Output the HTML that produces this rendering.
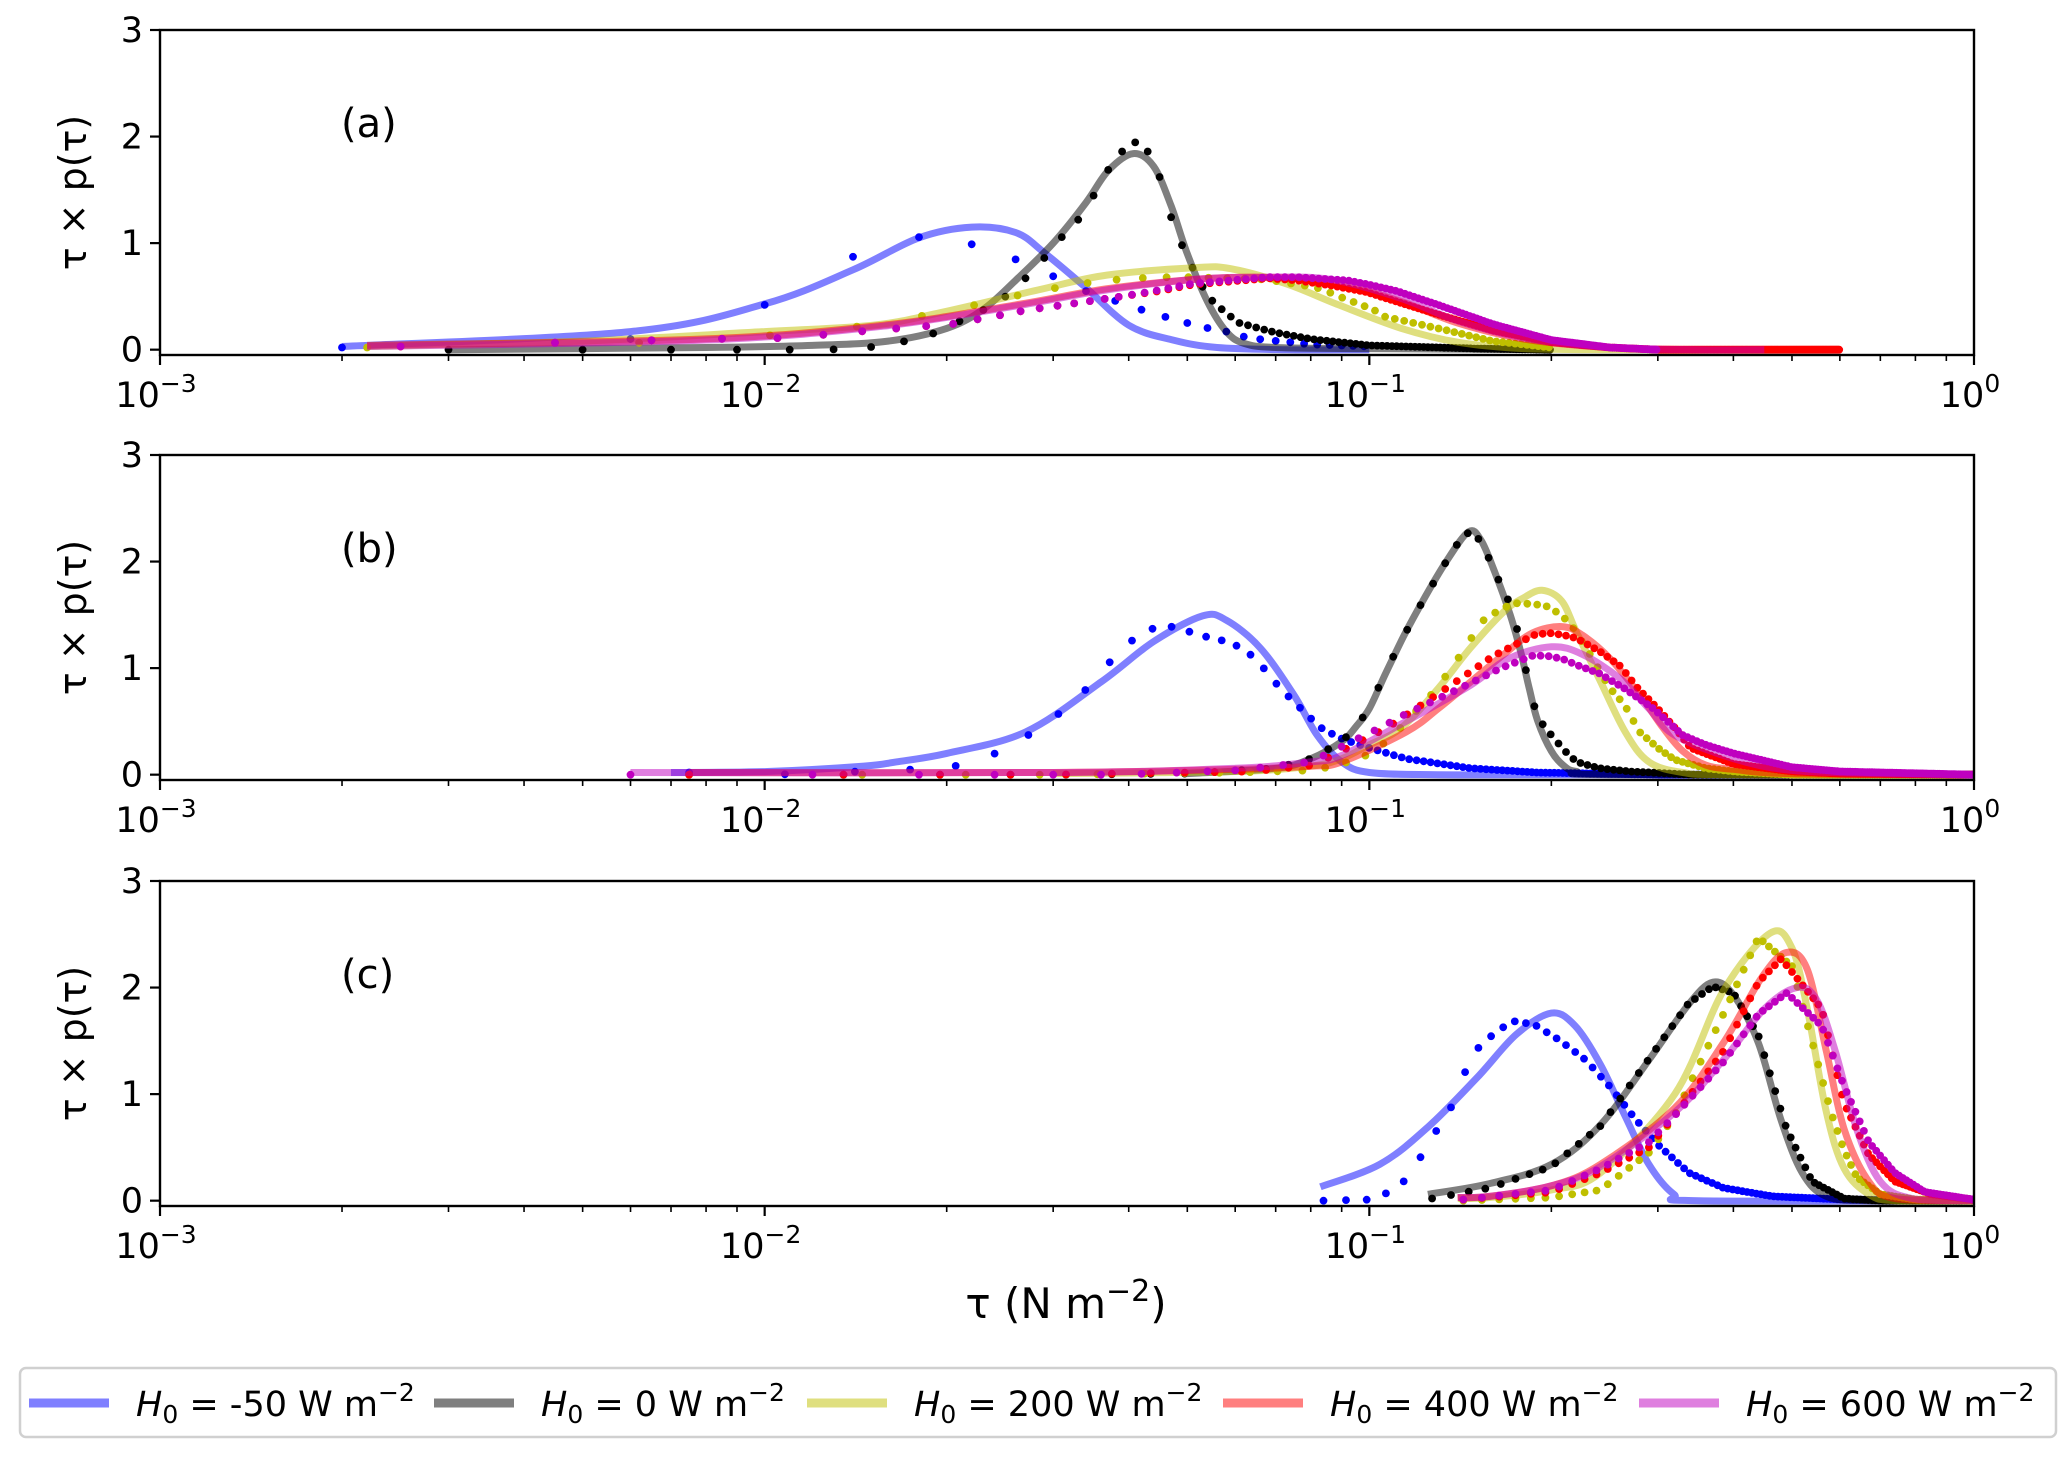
<!DOCTYPE html>
<html><head><meta charset="utf-8"><style>
html,body{margin:0;padding:0;background:#fff;}
svg{display:block;font-family:"DejaVu Sans","Liberation Sans",sans-serif;}
</style></head><body>
<svg id="chart" width="2067" height="1458" viewBox="0 0 2067 1458" xmlns="http://www.w3.org/2000/svg"></svg>
<script>
// ---------- data ----------
const panelLabels = ["(a)", "(b)", "(c)"];
const yTicks = [0, 1, 2, 3];
const xDecades = [-3, -2, -1, 0];
const seriesNames = ["-50", "0", "200", "400", "600"];

// Panel (a) lines
const aBlueLineT = [0.002,0.006,0.010,0.014,0.018,0.022,0.026,0.029,0.0337,0.040,0.0474,0.056,0.073,0.1];
const aBlueLineV = [0.03,0.17,0.43,0.75,1.05,1.15,1.10,0.91,0.60,0.23,0.09,0.02,0.0,0.0];
const aBlackLineT = [0.003,0.008,0.012,0.016,0.020,0.023,0.026,0.030,0.034,0.037,0.0407,0.044,0.047,0.050,0.054,0.058,0.062,0.070,0.10,0.20];
const aBlackLineV = [0.0,0.02,0.04,0.08,0.20,0.38,0.65,1.0,1.38,1.68,1.84,1.72,1.35,0.90,0.45,0.17,0.06,0.02,0.01,0.0];
const aYellowLineT = [0.0022,0.005,0.010,0.0151,0.0196,0.0283,0.0368,0.0517,0.059,0.0727,0.089,0.113,0.14,0.18,0.25,0.3];
const aYellowLineV = [0.03,0.08,0.17,0.23,0.35,0.56,0.70,0.77,0.76,0.62,0.42,0.20,0.07,0.01,0.0,0.0];
const aRedLineT = [0.0022,0.0079,0.0157,0.026,0.0367,0.0517,0.0667,0.086,0.113,0.14,0.18,0.25,0.35,0.45,0.6];
const aRedLineV = [0.04,0.10,0.23,0.42,0.57,0.66,0.68,0.64,0.45,0.25,0.10,0.02,0.0,0.0,0.0];
const aMagLineT = [0.0022,0.0079,0.0157,0.026,0.0367,0.0517,0.0667,0.086,0.113,0.14,0.18,0.25,0.35,0.45];
const aMagLineV = [0.03,0.09,0.22,0.41,0.56,0.66,0.68,0.66,0.48,0.27,0.11,0.02,0.0,0.0];
// Panel (a) dots
const aBlueDotT = [0.002,0.006,0.010,0.0138,0.0178,0.0217,0.0257,0.0297,0.0336,0.0412,0.0452,0.0493,0.0532,0.0572,0.061,0.0652,0.08,0.1];
const aBlueDotV = [0.02,0.10,0.42,0.86,1.06,1.0,0.86,0.70,0.56,0.39,0.32,0.26,0.21,0.18,0.13,0.10,0.05,0.03];
const aBlackDotT = [0.003,0.0088,0.0128,0.0148,0.0168,0.0188,0.0228,0.0248,0.0269,0.0289,0.0308,0.033,0.0348,0.0367,0.039,0.0409,0.043,0.045,0.0468,0.049,0.051,0.053,0.055,0.057,0.059,0.061,0.07,0.08,0.1,0.15,0.2];
const aBlackDotV = [0.0,0.0,0.0,0.02,0.07,0.14,0.36,0.48,0.66,0.85,1.04,1.22,1.42,1.66,1.86,1.95,1.86,1.62,1.27,0.98,0.77,0.59,0.46,0.38,0.31,0.25,0.16,0.10,0.04,0.01,0.0];
const aYellowDotT = [0.0022,0.006,0.010,0.015,0.0196,0.0283,0.0325,0.037,0.041,0.0454,0.05,0.067,0.071,0.076,0.081,0.085,0.089,0.097,0.102,0.106,0.13,0.16,0.2];
const aYellowDotV = [0.02,0.06,0.13,0.23,0.35,0.55,0.61,0.65,0.67,0.68,0.68,0.66,0.64,0.61,0.59,0.55,0.50,0.42,0.37,0.31,0.20,0.08,0.02];
const aRedDotT = [0.0025,0.008,0.0109,0.015,0.0204,0.0271,0.033,0.039,0.045,0.051,0.059,0.068,0.076,0.087,0.099,0.111,0.13,0.16,0.2,0.25,0.3,0.45,0.6];
const aRedDotV = [0.03,0.10,0.11,0.18,0.24,0.37,0.44,0.50,0.55,0.61,0.64,0.67,0.65,0.60,0.54,0.45,0.33,0.18,0.07,0.02,0.0,0.0,0.0];
const aMagDotT = [0.0025,0.008,0.0109,0.015,0.0204,0.0271,0.033,0.039,0.045,0.051,0.059,0.068,0.076,0.092,0.1,0.111,0.13,0.16,0.2,0.25,0.3];
const aMagDotV = [0.03,0.10,0.11,0.18,0.24,0.37,0.44,0.50,0.56,0.62,0.65,0.68,0.68,0.65,0.61,0.55,0.42,0.24,0.09,0.02,0.0];

// Panel (b) lines
const bBlueLineT = [0.007,0.0101,0.0146,0.0165,0.02,0.027,0.036,0.044,0.053,0.058,0.066,0.075,0.082,0.09,0.1,0.13,0.2,1.0];
const bBlueLineV = [0.02,0.03,0.08,0.12,0.20,0.40,0.87,1.25,1.49,1.45,1.19,0.75,0.37,0.12,0.02,0.0,0.0,0.0];
const bBlackLineT = [0.05,0.07,0.08,0.09,0.095,0.10,0.106,0.114,0.122,0.134,0.146,0.153,0.161,0.171,0.178,0.184,0.19,0.20,0.21,0.22,0.25,1.0];
const bBlackLineV = [0.01,0.06,0.15,0.31,0.45,0.62,0.93,1.30,1.61,2.0,2.28,2.20,1.91,1.50,1.15,0.80,0.50,0.22,0.08,0.03,0.0,0.0];
const bYellowLineT = [0.03,0.06,0.08,0.09,0.10,0.113,0.13,0.147,0.167,0.18,0.193,0.208,0.22,0.24,0.265,0.29,0.33,0.4,1.0];
const bYellowLineV = [0.01,0.03,0.08,0.15,0.28,0.44,0.81,1.19,1.53,1.66,1.73,1.63,1.34,0.90,0.40,0.12,0.02,0.0,0.0];
const bRedLineT = [0.0075,0.03,0.06,0.08,0.09,0.115,0.13,0.147,0.167,0.186,0.208,0.225,0.25,0.28,0.306,0.33,0.36,0.4,0.5,1.0];
const bRedLineV = [0.02,0.02,0.05,0.08,0.12,0.40,0.62,0.87,1.13,1.33,1.39,1.31,1.09,0.75,0.44,0.22,0.09,0.05,0.01,0.0];
const bMagLineT = [0.006,0.03,0.06,0.08,0.09,0.115,0.147,0.17,0.20,0.225,0.26,0.29,0.32,0.4,0.5,0.7,1.0];
const bMagLineV = [0.02,0.02,0.06,0.12,0.18,0.50,0.84,1.09,1.20,1.13,0.90,0.62,0.37,0.15,0.04,0.01,0.0];
// Panel (b) dots
const bBlueDotT = [0.0075,0.0104,0.02,0.0233,0.0266,0.0297,0.033,0.036,0.039,0.0426,0.0458,0.049,0.052,0.0554,0.0587,0.062,0.065,0.068,0.071,0.0745,0.078,0.081,0.084,0.0877,0.0906,0.1,0.115,0.147,0.19,0.3,1.0];
const bBlueDotV = [0.02,0.0,0.06,0.16,0.33,0.51,0.72,0.96,1.19,1.35,1.40,1.37,1.31,1.28,1.24,1.18,1.08,0.95,0.82,0.70,0.59,0.50,0.42,0.37,0.33,0.25,0.15,0.06,0.02,0.0,0.0];
const bBlackDotT = [0.0075,0.03,0.05,0.07,0.08,0.09,0.095,0.10,0.106,0.114,0.122,0.134,0.144,0.153,0.161,0.171,0.178,0.184,0.19,0.20,0.21,0.22,0.24,0.27,0.34,1.0];
const bBlackDotV = [0.0,0.0,0.01,0.06,0.15,0.31,0.45,0.62,0.95,1.30,1.61,2.0,2.28,2.20,1.91,1.60,1.24,0.80,0.53,0.37,0.23,0.12,0.06,0.03,0.0,0.0];
const bYellowDotT = [0.0075,0.03,0.06,0.08,0.089,0.0986,0.108,0.128,0.138,0.147,0.155,0.167,0.176,0.186,0.195,0.205,0.215,0.23,0.25,0.264,0.28,0.30,0.32,0.36,0.4,0.5,1.0];
const bYellowDotV = [0.0,0.0,0.02,0.04,0.09,0.18,0.33,0.78,1.03,1.27,1.46,1.57,1.61,1.60,1.59,1.52,1.42,1.16,0.81,0.66,0.40,0.25,0.14,0.06,0.03,0.0,0.0];
const bRedDotT = [0.0075,0.03,0.064,0.081,0.107,0.134,0.16,0.187,0.198,0.21,0.22,0.24,0.26,0.278,0.30,0.32,0.34,0.4,0.5,0.6,1.0];
const bRedDotV = [0.0,0.0,0.03,0.09,0.44,0.81,1.11,1.31,1.33,1.31,1.28,1.16,1.02,0.81,0.62,0.44,0.25,0.10,0.03,0.01,0.0];
const bMagDotT = [0.006,0.0104,0.0386,0.06,0.08,0.105,0.114,0.14,0.165,0.187,0.20,0.21,0.22,0.24,0.264,0.295,0.33,0.36,0.4,0.5,0.6,1.0];
const bMagDotV = [0.0,0.0,0.0,0.04,0.12,0.45,0.56,0.80,1.0,1.12,1.11,1.08,1.03,0.95,0.81,0.62,0.37,0.28,0.20,0.07,0.03,0.0];

// Panel (c) lines
const cBlueLineT = [0.083,0.104,0.125,0.151,0.175,0.20,0.219,0.241,0.265,0.29,0.319,0.35,1.0];
const cBlueLineV = [0.13,0.34,0.69,1.16,1.56,1.76,1.64,1.28,0.79,0.34,0.06,0.0,0.0];
const cBlackLineT = [0.125,0.158,0.20,0.241,0.29,0.337,0.37,0.40,0.44,0.48,0.52,0.57,0.67,1.0];
const cBlackLineV = [0.06,0.16,0.34,0.71,1.32,1.84,2.05,1.93,1.48,0.75,0.26,0.04,0.0,0.0];
const cYellowLineT = [0.14,0.158,0.20,0.241,0.32,0.385,0.46,0.50,0.53,0.57,0.61,0.67,0.74,1.0];
const cYellowLineV = [0.02,0.03,0.10,0.26,1.0,1.97,2.51,2.37,1.80,0.83,0.30,0.06,0.0,0.0];
const cRedLineT = [0.14,0.158,0.20,0.241,0.32,0.385,0.445,0.49,0.53,0.57,0.61,0.67,0.74,1.0];
const cRedLineV = [0.03,0.04,0.14,0.34,0.87,1.48,2.09,2.33,2.17,1.40,0.67,0.18,0.02,0.0];
const cMagLineT = [0.14,0.158,0.20,0.241,0.32,0.385,0.45,0.51,0.55,0.59,0.64,0.70,0.79,1.0];
const cMagLineV = [0.03,0.04,0.14,0.32,0.83,1.32,1.80,2.0,1.88,1.40,0.67,0.18,0.02,0.0];
// Panel (c) dots
const cBlueDotT = [0.084,0.10,0.106,0.116,0.125,0.137,0.148,0.163,0.175,0.189,0.207,0.228,0.25,0.275,0.302,0.338,0.385,0.465,0.61,1.0];
const cBlueDotV = [0.0,0.01,0.06,0.21,0.53,0.89,1.38,1.60,1.69,1.64,1.50,1.32,1.07,0.77,0.51,0.26,0.12,0.04,0.01,0.0];
const cBlackDotT = [0.127,0.158,0.20,0.241,0.29,0.337,0.37,0.40,0.44,0.49,0.54,0.61,0.7,1.0];
const cBlackDotV = [0.02,0.12,0.32,0.70,1.33,1.85,2.01,1.95,1.55,0.67,0.18,0.02,0.0,0.0];
const cYellowDotT = [0.143,0.20,0.241,0.29,0.32,0.385,0.44,0.50,0.55,0.58,0.61,0.64,0.70,0.8,1.0];
const cYellowDotV = [0.0,0.03,0.10,0.45,0.80,1.75,2.47,2.20,1.32,0.83,0.47,0.22,0.06,0.01,0.0];
const cRedDotT = [0.143,0.20,0.241,0.29,0.32,0.385,0.44,0.48,0.56,0.61,0.67,0.74,0.85,1.0];
const cRedDotV = [0.01,0.08,0.26,0.50,0.80,1.40,2.05,2.27,1.80,0.91,0.43,0.18,0.06,0.01];
const cMagDotT = [0.143,0.20,0.241,0.29,0.32,0.385,0.44,0.49,0.56,0.61,0.67,0.74,0.83,1.0];
const cMagDotV = [0.01,0.10,0.30,0.55,0.80,1.30,1.75,1.95,1.64,1.07,0.55,0.26,0.08,0.01];

// ---------- layout ----------
const SVGNS = "http://www.w3.org/2000/svg";
const svg = document.getElementById("chart");
const X0 = 160, X1 = 1974;
const panelTops = [30, 455, 881];
const panelH = 325;
const Y_MIN = -0.05, Y_MAX = 3;
const colors = ["#0000ff", "#000000", "#bfbf00", "#ff0000", "#bf00bf"];
const colorKeys = ["blue", "black", "yellow", "red", "magenta"];

function xScale(t) { return X0 + (Math.log10(t) + 3) / 3 * (X1 - X0); }
function yScale(p, v) { const top = panelTops[p]; return top + (Y_MAX - v) / (Y_MAX - Y_MIN) * panelH; }

function mk(tag, attrs, parent) {
  const el = document.createElementNS(SVGNS, tag);
  for (const k in attrs) el.setAttribute(k, attrs[k]);
  (parent || svg).appendChild(el);
  return el;
}

function smoothPath(pts) {
  let d = "M" + pts[0][0].toFixed(1) + "," + pts[0][1].toFixed(1);
  for (let i = 0; i < pts.length - 1; i++) {
    const p0 = pts[Math.max(0, i - 1)], p1 = pts[i], p2 = pts[i + 1], p3 = pts[Math.min(pts.length - 1, i + 2)];
    const c1x = p1[0] + (p2[0] - p0[0]) / 6, c1y = p1[1] + (p2[1] - p0[1]) / 6;
    const c2x = p2[0] - (p3[0] - p1[0]) / 6, c2y = p2[1] - (p3[1] - p1[1]) / 6;
    d += " C" + c1x.toFixed(1) + "," + c1y.toFixed(1) + " " + c2x.toFixed(1) + "," + c2y.toFixed(1) + " " + p2[0].toFixed(1) + "," + p2[1].toFixed(1);
  }
  return d;
}

function interpLog(T, V, t) {
  const lt = Math.log10(t);
  for (let i = 0; i < T.length - 1; i++) {
    const a = Math.log10(T[i]), b = Math.log10(T[i + 1]);
    if (lt >= a && lt <= b) { const f = (lt - a) / (b - a); return V[i] + f * (V[i + 1] - V[i]); }
  }
  return V[V.length - 1];
}

const panels = [
  { lines: [[aBlueLineT,aBlueLineV],[aBlackLineT,aBlackLineV],[aYellowLineT,aYellowLineV],[aRedLineT,aRedLineV],[aMagLineT,aMagLineV]],
    dots: [[aBlueDotT,aBlueDotV],[aBlackDotT,aBlackDotV],[aYellowDotT,aYellowDotV],[aRedDotT,aRedDotV],[aMagDotT,aMagDotV]],
    steps: [0.004,0.002,0.004,0.002,0.002] },
  { lines: [[bBlueLineT,bBlueLineV],[bBlackLineT,bBlackLineV],[bYellowLineT,bYellowLineV],[bRedLineT,bRedLineV],[bMagLineT,bMagLineV]],
    dots: [[bBlueDotT,bBlueDotV],[bBlackDotT,bBlackDotV],[bYellowDotT,bYellowDotV],[bRedDotT,bRedDotV],[bMagDotT,bMagDotV]],
    steps: [0.0033,0.006,0.007,0.006,0.006] },
  { lines: [[cBlueLineT,cBlueLineV],[cBlackLineT,cBlackLineV],[cYellowLineT,cYellowLineV],[cRedLineT,cRedLineV],[cMagLineT,cMagLineV]],
    dots: [[cBlueDotT,cBlueDotV],[cBlackDotT,cBlackDotV],[cYellowDotT,cYellowDotV],[cRedDotT,cRedDotV],[cMagDotT,cMagDotV]],
    steps: [0.0075,0.0095,0.0105,0.0105,0.0105] }
];

panels.forEach((pd, p) => {
  const g = mk("g", {});
  
  
  const top = panelTops[p], bottom = top + panelH;
  const clipId = "clip" + p;
  const cp = mk("clipPath", { id: clipId }, g);
  mk("rect", { x: X0, y: top, width: X1 - X0, height: panelH }, cp);
  const plot = mk("g", { "clip-path": "url(#" + clipId + ")" }, g);
  
  

  for (let s = 0; s < 5; s++) {
    const [LT, LV] = pd.lines[s];
    const pts = LT.map((t, i) => [xScale(t), yScale(p, LV[i])]);
    const path = mk("path", { d: smoothPath(pts), fill: "none", stroke: colors[s], "stroke-opacity": 0.5, "stroke-width": 7, "stroke-linejoin": "round" }, plot);
    
    
    const [DT, DV] = pd.dots[s];
    const dg = mk("g", { fill: colors[s] }, plot);
    
    
    const step = pd.steps[s];
    for (let t = DT[0]; t <= DT[DT.length - 1] + 1e-9; t += step) {
      const v = interpLog(DT, DV, t);
      const c = mk("circle", { cx: xScale(t).toFixed(1), cy: yScale(p, v).toFixed(1), r: 3.9 }, dg);
      
      
    }
  }

  const frame = mk("rect", { x: X0, y: top, width: X1 - X0, height: panelH, fill: "none", stroke: "#000", "stroke-width": 2.4 }, g);
  
  

  yTicks.forEach(v => {
    const y = yScale(p, v);
    mk("line", { x1: X0 - 10, x2: X0, y1: y, y2: y, stroke: "#000", "stroke-width": 2.2 }, g);
    const tx = mk("text", { x: X0 - 17, y: y + 12, "text-anchor": "end", "font-size": 35, fill: "#000" }, g);
    tx.textContent = v;
    
    
  });
  xDecades.forEach((d, i) => {
    const x = xScale(Math.pow(10, d));
    mk("line", { x1: x, x2: x, y1: bottom, y2: bottom + 10, stroke: "#000", "stroke-width": 2.2 }, g);
    const tx = mk("text", { x: x - 4, y: bottom + 52, "text-anchor": "middle", "font-size": 35, fill: "#000" }, g);
    
    
    const t1 = mk("tspan", {}, tx); t1.textContent = "10";
    const t2 = mk("tspan", { dy: -15, "font-size": 25 }, tx); t2.textContent = "\u2212" + Math.abs(d);
    if (d === 0) t2.textContent = "0";
    if (i < 3) {
      for (let m = 2; m <= 9; m++) {
        const xm = xScale(m * Math.pow(10, d));
        mk("line", { x1: xm, x2: xm, y1: bottom, y2: bottom + 6, stroke: "#000", "stroke-width": 1.6 }, g);
      }
    }
  });
  const cy = top + panelH / 2;
  const yl = mk("text", { x: 0, y: 0, transform: "translate(86," + cy + ") rotate(-90)", "text-anchor": "middle", "font-size": 38, fill: "#000" }, g);
  yl.textContent = "\u03C4 \u00D7 p(\u03C4)";
  
  
  const pl = mk("text", { x: 341, y: top + 107, "font-size": 40, fill: "#000" }, g);
  pl.textContent = panelLabels[p];
  
  
});

const xt = mk("text", { x: 1066, y: 1318, "text-anchor": "middle", "font-size": 42, fill: "#000" });


const xa = mk("tspan", {}, xt); xa.textContent = "\u03C4 (N m";
const xb = mk("tspan", { dy: -17, "font-size": 30 }, xt); xb.textContent = "\u22122";
const xc = mk("tspan", { dy: 17 }, xt); xc.textContent = ")";

const lg = mk("g", {});


mk("rect", { x: 20, y: 1368, width: 2036, height: 69, rx: 6, fill: "#fff", stroke: "#d0d0d0", "stroke-width": 2.5 }, lg);
const legendTextX = [136, 541, 914, 1330, 1746];
seriesNames.forEach((nm, i) => {
  const eg = mk("g", {}, lg);
  
  
  const tx0 = legendTextX[i];
  mk("line", { x1: tx0 - 107, x2: tx0 - 27, y1: 1403, y2: 1403, stroke: colors[i], "stroke-opacity": 0.5, "stroke-width": 9 }, eg);
  const t = mk("text", { x: tx0, y: 1416, "font-size": 35, fill: "#000" }, eg);
  const a = mk("tspan", { "font-style": "italic" }, t); a.textContent = "H";
  const b = mk("tspan", { dy: 7, "font-size": 25 }, t); b.textContent = "0";
  const c = mk("tspan", { dy: -7 }, t); c.textContent = " = " + nm + " W m";
  const d = mk("tspan", { dy: -15, "font-size": 25 }, t); d.textContent = "\u22122";
});
</script>
</body></html>
